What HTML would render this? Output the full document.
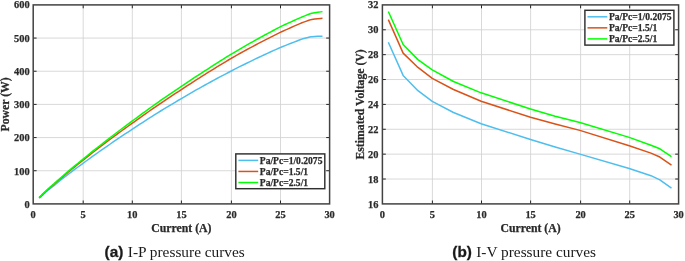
<!DOCTYPE html>
<html lang="en"><head><meta charset="utf-8"><title>I-P and I-V pressure curves</title>
<style>html,body{margin:0;padding:0;background:#fff}body{width:685px;height:261px;overflow:hidden}svg{display:block;will-change:transform}</style>
</head><body>
<svg width="685" height="261" viewBox="0 0 685 261">
<rect width="685" height="261" fill="#fff"/>
<g font-family="'Liberation Serif', serif" font-weight="bold" fill="#2a2a2a" stroke="#2a2a2a" stroke-width="0.25">
<line x1="83.20" y1="4.9" x2="83.20" y2="203.9" stroke="#d2d2d2" stroke-width="0.85"/>
<line x1="132.30" y1="4.9" x2="132.30" y2="203.9" stroke="#d2d2d2" stroke-width="0.85"/>
<line x1="181.40" y1="4.9" x2="181.40" y2="203.9" stroke="#d2d2d2" stroke-width="0.85"/>
<line x1="231.40" y1="4.9" x2="231.40" y2="203.9" stroke="#d2d2d2" stroke-width="0.85"/>
<line x1="280.50" y1="4.9" x2="280.50" y2="203.9" stroke="#d2d2d2" stroke-width="0.85"/>
<line x1="33.2" y1="170.73" x2="329.6" y2="170.73" stroke="#d2d2d2" stroke-width="0.85"/>
<line x1="33.2" y1="137.57" x2="329.6" y2="137.57" stroke="#d2d2d2" stroke-width="0.85"/>
<line x1="33.2" y1="104.40" x2="329.6" y2="104.40" stroke="#d2d2d2" stroke-width="0.85"/>
<line x1="33.2" y1="71.23" x2="329.6" y2="71.23" stroke="#d2d2d2" stroke-width="0.85"/>
<line x1="33.2" y1="38.07" x2="329.6" y2="38.07" stroke="#d2d2d2" stroke-width="0.85"/>
<polyline points="39.13,198.13 42.09,195.40 45.06,192.78 48.02,190.27 50.98,187.86 53.95,185.56 53.95,185.56 56.91,183.14 59.88,180.76 62.84,178.44 65.80,176.16 68.77,173.93 68.77,173.93 71.73,171.66 74.70,169.43 77.66,167.23 80.62,165.06 83.09,163.28 83.59,162.92 86.55,160.73 89.52,158.57 92.48,156.43 95.44,154.32 98.41,152.24 101.37,150.18 104.34,148.14 104.34,148.14 107.30,146.06 110.26,143.99 113.23,141.95 116.19,139.92 119.16,137.91 122.12,135.93 125.08,133.96 128.05,132.01 131.01,130.08 132.00,129.44 133.98,128.12 136.94,126.16 139.90,124.21 142.87,122.28 145.83,120.36 148.80,118.46 151.76,116.57 154.72,114.70 157.69,112.84 160.65,111.00 163.62,109.17 166.58,107.36 169.54,105.56 172.51,103.78 175.47,102.02 178.44,100.27 181.40,98.53 181.40,98.53 184.36,96.79 187.33,95.06 190.29,93.35 193.26,91.65 196.22,89.96 199.18,88.29 202.15,86.64 205.11,84.99 206.10,84.45 208.08,83.36 211.04,81.73 214.00,80.12 216.97,78.52 219.93,76.93 222.90,75.36 225.86,73.80 228.82,72.26 230.80,71.23 231.79,70.72 234.75,69.20 237.72,67.70 240.68,66.20 243.64,64.72 246.61,63.26 249.57,61.80 252.54,60.37 255.50,58.94 258.46,57.53 261.43,56.13 264.39,54.75 267.36,53.38 270.32,52.02 273.28,50.68 276.25,49.35 279.21,48.04 280.20,47.60 282.18,46.79 285.14,45.59 288.10,44.41 291.07,43.24 294.03,42.08 297.00,40.94 299.96,39.82 301.94,39.08 302.92,38.82 305.89,38.04 308.85,37.29 310.83,36.80 311.82,36.72 314.78,36.53 317.74,36.37 320.71,36.25 322.49,36.19" fill="none" stroke="#4DBEEE" stroke-width="1.5" stroke-linejoin="round" stroke-linecap="butt"/>
<polyline points="39.13,197.77 42.09,194.86 45.06,192.06 48.02,189.37 50.98,186.79 53.95,184.31 53.95,184.31 56.91,181.70 59.88,179.13 62.84,176.61 65.80,174.13 68.77,171.70 68.77,171.70 71.73,169.25 74.70,166.84 77.66,164.46 80.62,162.12 83.09,160.20 83.59,159.80 86.55,157.43 89.52,155.09 92.48,152.76 95.44,150.47 98.41,148.19 101.37,145.95 104.34,143.72 104.34,143.72 107.30,141.47 110.26,139.23 113.23,137.02 116.19,134.83 119.16,132.65 122.12,130.50 125.08,128.37 128.05,126.26 131.01,124.16 132.00,123.47 133.98,122.04 136.94,119.90 139.90,117.77 142.87,115.66 145.83,113.57 148.80,111.49 151.76,109.42 154.72,107.37 157.69,105.34 160.65,103.32 163.62,101.32 166.58,99.33 169.54,97.36 172.51,95.40 175.47,93.46 178.44,91.54 181.40,89.62 181.40,89.62 184.36,87.67 187.33,85.72 190.29,83.79 193.26,81.87 196.22,79.97 199.18,78.08 202.15,76.20 205.11,74.33 206.10,73.71 208.08,72.47 211.04,70.61 214.00,68.77 216.97,66.94 219.93,65.12 222.90,63.32 225.86,61.52 228.82,59.74 230.80,58.56 231.79,58.00 234.75,56.32 237.72,54.66 240.68,53.01 243.64,51.38 246.61,49.76 249.57,48.15 252.54,46.56 255.50,44.99 258.46,43.43 261.43,41.88 264.39,40.35 267.36,38.83 270.32,37.33 273.28,35.84 276.25,34.37 279.21,32.91 280.20,32.43 282.18,31.51 285.14,30.15 288.10,28.81 291.07,27.48 294.03,26.17 297.00,24.87 299.96,23.60 301.94,22.75 302.92,22.40 305.89,21.35 308.85,20.32 310.83,19.65 311.82,19.51 314.78,19.11 317.74,18.74 320.71,18.41 322.49,18.22" fill="none" stroke="#D95319" stroke-width="1.5" stroke-linejoin="round" stroke-linecap="butt"/>
<polyline points="39.13,197.64 42.09,194.66 45.06,191.80 48.02,189.03 50.98,186.38 53.95,183.83 53.95,183.83 56.91,181.15 59.88,178.53 62.84,175.95 65.80,173.42 68.77,170.95 68.77,170.95 71.73,168.42 74.70,165.93 77.66,163.48 80.62,161.05 83.09,159.06 83.59,158.66 86.55,156.23 89.52,153.82 92.48,151.45 95.44,149.09 98.41,146.77 101.37,144.47 104.34,142.19 104.34,142.19 107.30,139.87 110.26,137.56 113.23,135.27 116.19,133.00 119.16,130.75 122.12,128.51 125.08,126.30 128.05,124.11 131.01,121.94 132.00,121.22 133.98,119.74 136.94,117.53 139.90,115.35 142.87,113.17 145.83,111.02 148.80,108.87 151.76,106.75 154.72,104.64 157.69,102.54 160.65,100.46 163.62,98.40 166.58,96.35 169.54,94.32 172.51,92.30 175.47,90.30 178.44,88.31 181.40,86.34 181.40,86.34 184.36,84.34 187.33,82.36 190.29,80.39 193.26,78.43 196.22,76.49 199.18,74.56 202.15,72.65 205.11,70.74 206.10,70.11 208.08,68.82 211.04,66.90 214.00,64.99 216.97,63.09 219.93,61.20 222.90,59.33 225.86,57.46 228.82,55.61 230.80,54.38 231.79,53.80 234.75,52.04 237.72,50.30 240.68,48.57 243.64,46.85 246.61,45.15 249.57,43.47 252.54,41.79 255.50,40.14 258.46,38.49 261.43,36.86 264.39,35.25 267.36,33.65 270.32,32.06 273.28,30.49 276.25,28.93 279.21,27.38 280.20,26.87 282.18,25.94 285.14,24.54 288.10,23.17 291.07,21.81 294.03,20.47 297.00,19.15 299.96,17.84 301.94,16.98 302.92,16.58 305.89,15.41 308.85,14.25 310.83,13.50 311.82,13.32 314.78,12.80 317.74,12.32 320.71,11.87 322.49,11.62" fill="none" stroke="#00FF00" stroke-width="1.5" stroke-linejoin="round" stroke-linecap="butt"/>
<line x1="83.20" y1="203.9" x2="83.20" y2="200.5" stroke="#262626" stroke-width="1"/>
<line x1="83.20" y1="4.9" x2="83.20" y2="8.3" stroke="#262626" stroke-width="1"/>
<line x1="132.30" y1="203.9" x2="132.30" y2="200.5" stroke="#262626" stroke-width="1"/>
<line x1="132.30" y1="4.9" x2="132.30" y2="8.3" stroke="#262626" stroke-width="1"/>
<line x1="181.40" y1="203.9" x2="181.40" y2="200.5" stroke="#262626" stroke-width="1"/>
<line x1="181.40" y1="4.9" x2="181.40" y2="8.3" stroke="#262626" stroke-width="1"/>
<line x1="231.40" y1="203.9" x2="231.40" y2="200.5" stroke="#262626" stroke-width="1"/>
<line x1="231.40" y1="4.9" x2="231.40" y2="8.3" stroke="#262626" stroke-width="1"/>
<line x1="280.50" y1="203.9" x2="280.50" y2="200.5" stroke="#262626" stroke-width="1"/>
<line x1="280.50" y1="4.9" x2="280.50" y2="8.3" stroke="#262626" stroke-width="1"/>
<line x1="33.2" y1="170.73" x2="36.6" y2="170.73" stroke="#262626" stroke-width="1"/>
<line x1="329.6" y1="170.73" x2="326.20000000000005" y2="170.73" stroke="#262626" stroke-width="1"/>
<line x1="33.2" y1="137.57" x2="36.6" y2="137.57" stroke="#262626" stroke-width="1"/>
<line x1="329.6" y1="137.57" x2="326.20000000000005" y2="137.57" stroke="#262626" stroke-width="1"/>
<line x1="33.2" y1="104.40" x2="36.6" y2="104.40" stroke="#262626" stroke-width="1"/>
<line x1="329.6" y1="104.40" x2="326.20000000000005" y2="104.40" stroke="#262626" stroke-width="1"/>
<line x1="33.2" y1="71.23" x2="36.6" y2="71.23" stroke="#262626" stroke-width="1"/>
<line x1="329.6" y1="71.23" x2="326.20000000000005" y2="71.23" stroke="#262626" stroke-width="1"/>
<line x1="33.2" y1="38.07" x2="36.6" y2="38.07" stroke="#262626" stroke-width="1"/>
<line x1="329.6" y1="38.07" x2="326.20000000000005" y2="38.07" stroke="#262626" stroke-width="1"/>
<rect x="33.2" y="4.9" width="296.40" height="199.00" fill="none" stroke="#424242" stroke-width="1.5"/>
<text x="33.20" y="217.6" font-size="10.4" text-anchor="middle">0</text>
<text x="83.20" y="217.6" font-size="10.4" text-anchor="middle">5</text>
<text x="132.30" y="217.6" font-size="10.4" text-anchor="middle">10</text>
<text x="181.40" y="217.6" font-size="10.4" text-anchor="middle">15</text>
<text x="231.40" y="217.6" font-size="10.4" text-anchor="middle">20</text>
<text x="280.50" y="217.6" font-size="10.4" text-anchor="middle">25</text>
<text x="329.60" y="217.6" font-size="10.4" text-anchor="middle">30</text>
<text x="29.60" y="208.10" font-size="10.4" text-anchor="end">0</text>
<text x="29.60" y="174.78" font-size="10.4" text-anchor="end">100</text>
<text x="29.60" y="141.47" font-size="10.4" text-anchor="end">200</text>
<text x="29.60" y="108.15" font-size="10.4" text-anchor="end">300</text>
<text x="29.60" y="74.83" font-size="10.4" text-anchor="end">400</text>
<text x="29.60" y="41.52" font-size="10.4" text-anchor="end">500</text>
<text x="29.60" y="8.20" font-size="10.4" text-anchor="end">600</text>
<text x="181.40" y="231.8" font-size="11.75" text-anchor="middle">Current (A)</text>
<text transform="translate(9.4,104.40) rotate(-90)" font-size="11.75" text-anchor="middle">Power (W)</text>
<rect x="235.8" y="153.9" width="89.0" height="34.8" fill="#fff" stroke="#303030" stroke-width="1.45"/>
<line x1="238.40" y1="160.40" x2="258.20" y2="160.40" stroke="#4DBEEE" stroke-width="1.5"/>
<text x="259.80" y="163.60" font-size="9.58">Pa/Pc=1/0.2075</text>
<line x1="238.40" y1="171.45" x2="258.20" y2="171.45" stroke="#D95319" stroke-width="1.5"/>
<text x="259.80" y="174.65" font-size="9.58">Pa/Pc=1.5/1</text>
<line x1="238.40" y1="182.50" x2="258.20" y2="182.50" stroke="#00FF00" stroke-width="1.5"/>
<text x="259.80" y="185.70" font-size="9.58">Pa/Pc=2.5/1</text>
</g>
<text x="104.6" y="256.6" font-family="'Liberation Sans', sans-serif" font-weight="bold" font-size="15.3" fill="#1a1a1a" stroke="#1a1a1a" stroke-width="0.3">(a)</text>
<text x="127.8" y="256.6" font-family="'Liberation Serif', serif" font-size="15.35" fill="#1a1a1a">I-P pressure curves</text>
<g font-family="'Liberation Serif', serif" font-weight="bold" fill="#2a2a2a" stroke="#2a2a2a" stroke-width="0.25">
<line x1="432.40" y1="4.9" x2="432.40" y2="203.9" stroke="#d2d2d2" stroke-width="0.85"/>
<line x1="481.50" y1="4.9" x2="481.50" y2="203.9" stroke="#d2d2d2" stroke-width="0.85"/>
<line x1="530.60" y1="4.9" x2="530.60" y2="203.9" stroke="#d2d2d2" stroke-width="0.85"/>
<line x1="580.60" y1="4.9" x2="580.60" y2="203.9" stroke="#d2d2d2" stroke-width="0.85"/>
<line x1="629.70" y1="4.9" x2="629.70" y2="203.9" stroke="#d2d2d2" stroke-width="0.85"/>
<line x1="382.4" y1="179.03" x2="678.6" y2="179.03" stroke="#d2d2d2" stroke-width="0.85"/>
<line x1="382.4" y1="154.15" x2="678.6" y2="154.15" stroke="#d2d2d2" stroke-width="0.85"/>
<line x1="382.4" y1="129.28" x2="678.6" y2="129.28" stroke="#d2d2d2" stroke-width="0.85"/>
<line x1="382.4" y1="104.40" x2="678.6" y2="104.40" stroke="#d2d2d2" stroke-width="0.85"/>
<line x1="382.4" y1="79.53" x2="678.6" y2="79.53" stroke="#d2d2d2" stroke-width="0.85"/>
<line x1="382.4" y1="54.65" x2="678.6" y2="54.65" stroke="#d2d2d2" stroke-width="0.85"/>
<line x1="382.4" y1="29.78" x2="678.6" y2="29.78" stroke="#d2d2d2" stroke-width="0.85"/>
<polyline points="388.32,42.21 403.13,75.42 417.94,90.72 432.26,101.29 453.49,112.48 481.13,123.68 530.50,139.47 555.18,146.94 579.87,154.15 629.23,168.45 650.95,175.67 659.84,179.90 671.49,188.10" fill="none" stroke="#4DBEEE" stroke-width="1.5" stroke-linejoin="round" stroke-linecap="butt"/>
<polyline points="388.32,19.58 403.13,53.16 417.94,67.46 432.26,78.41 453.49,89.48 481.13,101.29 530.50,117.21 555.18,123.93 579.87,130.39 629.23,145.69 650.95,153.16 659.84,157.01 671.49,165.09" fill="none" stroke="#D95319" stroke-width="1.5" stroke-linejoin="round" stroke-linecap="butt"/>
<polyline points="388.32,11.49 403.13,44.45 417.94,59.62 432.26,69.95 453.49,81.52 481.13,92.83 530.50,109.00 555.18,116.22 579.87,122.56 629.23,137.36 650.95,145.20 659.84,148.80 671.49,156.64" fill="none" stroke="#00FF00" stroke-width="1.5" stroke-linejoin="round" stroke-linecap="butt"/>
<line x1="432.40" y1="203.9" x2="432.40" y2="200.5" stroke="#262626" stroke-width="1"/>
<line x1="432.40" y1="4.9" x2="432.40" y2="8.3" stroke="#262626" stroke-width="1"/>
<line x1="481.50" y1="203.9" x2="481.50" y2="200.5" stroke="#262626" stroke-width="1"/>
<line x1="481.50" y1="4.9" x2="481.50" y2="8.3" stroke="#262626" stroke-width="1"/>
<line x1="530.60" y1="203.9" x2="530.60" y2="200.5" stroke="#262626" stroke-width="1"/>
<line x1="530.60" y1="4.9" x2="530.60" y2="8.3" stroke="#262626" stroke-width="1"/>
<line x1="580.60" y1="203.9" x2="580.60" y2="200.5" stroke="#262626" stroke-width="1"/>
<line x1="580.60" y1="4.9" x2="580.60" y2="8.3" stroke="#262626" stroke-width="1"/>
<line x1="629.70" y1="203.9" x2="629.70" y2="200.5" stroke="#262626" stroke-width="1"/>
<line x1="629.70" y1="4.9" x2="629.70" y2="8.3" stroke="#262626" stroke-width="1"/>
<line x1="382.4" y1="179.03" x2="385.79999999999995" y2="179.03" stroke="#262626" stroke-width="1"/>
<line x1="678.6" y1="179.03" x2="675.2" y2="179.03" stroke="#262626" stroke-width="1"/>
<line x1="382.4" y1="154.15" x2="385.79999999999995" y2="154.15" stroke="#262626" stroke-width="1"/>
<line x1="678.6" y1="154.15" x2="675.2" y2="154.15" stroke="#262626" stroke-width="1"/>
<line x1="382.4" y1="129.28" x2="385.79999999999995" y2="129.28" stroke="#262626" stroke-width="1"/>
<line x1="678.6" y1="129.28" x2="675.2" y2="129.28" stroke="#262626" stroke-width="1"/>
<line x1="382.4" y1="104.40" x2="385.79999999999995" y2="104.40" stroke="#262626" stroke-width="1"/>
<line x1="678.6" y1="104.40" x2="675.2" y2="104.40" stroke="#262626" stroke-width="1"/>
<line x1="382.4" y1="79.53" x2="385.79999999999995" y2="79.53" stroke="#262626" stroke-width="1"/>
<line x1="678.6" y1="79.53" x2="675.2" y2="79.53" stroke="#262626" stroke-width="1"/>
<line x1="382.4" y1="54.65" x2="385.79999999999995" y2="54.65" stroke="#262626" stroke-width="1"/>
<line x1="678.6" y1="54.65" x2="675.2" y2="54.65" stroke="#262626" stroke-width="1"/>
<line x1="382.4" y1="29.78" x2="385.79999999999995" y2="29.78" stroke="#262626" stroke-width="1"/>
<line x1="678.6" y1="29.78" x2="675.2" y2="29.78" stroke="#262626" stroke-width="1"/>
<rect x="382.4" y="4.9" width="296.20" height="199.00" fill="none" stroke="#424242" stroke-width="1.5"/>
<text x="382.40" y="217.6" font-size="10.4" text-anchor="middle">0</text>
<text x="432.40" y="217.6" font-size="10.4" text-anchor="middle">5</text>
<text x="481.50" y="217.6" font-size="10.4" text-anchor="middle">10</text>
<text x="530.60" y="217.6" font-size="10.4" text-anchor="middle">15</text>
<text x="580.60" y="217.6" font-size="10.4" text-anchor="middle">20</text>
<text x="629.70" y="217.6" font-size="10.4" text-anchor="middle">25</text>
<text x="678.60" y="217.6" font-size="10.4" text-anchor="middle">30</text>
<text x="378.50" y="208.10" font-size="10.4" text-anchor="end">16</text>
<text x="378.50" y="183.11" font-size="10.4" text-anchor="end">18</text>
<text x="378.50" y="158.13" font-size="10.4" text-anchor="end">20</text>
<text x="378.50" y="133.14" font-size="10.4" text-anchor="end">22</text>
<text x="378.50" y="108.15" font-size="10.4" text-anchor="end">24</text>
<text x="378.50" y="83.16" font-size="10.4" text-anchor="end">26</text>
<text x="378.50" y="58.18" font-size="10.4" text-anchor="end">28</text>
<text x="378.50" y="33.19" font-size="10.4" text-anchor="end">30</text>
<text x="378.50" y="8.20" font-size="10.4" text-anchor="end">32</text>
<text x="530.50" y="231.8" font-size="11.75" text-anchor="middle">Current (A)</text>
<text transform="translate(363.7,104.40) rotate(-90)" font-size="11.75" text-anchor="middle">Estimated Voltage (V)</text>
<rect x="584.9" y="10.3" width="89.0" height="34.8" fill="#fff" stroke="#303030" stroke-width="1.45"/>
<line x1="587.50" y1="16.80" x2="607.30" y2="16.80" stroke="#4DBEEE" stroke-width="1.5"/>
<text x="608.90" y="20.00" font-size="9.58">Pa/Pc=1/0.2075</text>
<line x1="587.50" y1="27.85" x2="607.30" y2="27.85" stroke="#D95319" stroke-width="1.5"/>
<text x="608.90" y="31.05" font-size="9.58">Pa/Pc=1.5/1</text>
<line x1="587.50" y1="38.90" x2="607.30" y2="38.90" stroke="#00FF00" stroke-width="1.5"/>
<text x="608.90" y="42.10" font-size="9.58">Pa/Pc=2.5/1</text>
</g>
<text x="452.3" y="256.6" font-family="'Liberation Sans', sans-serif" font-weight="bold" font-size="15.3" fill="#1a1a1a" stroke="#1a1a1a" stroke-width="0.3">(b)</text>
<text x="476.2" y="256.6" font-family="'Liberation Serif', serif" font-size="15.35" fill="#1a1a1a">I-V pressure curves</text>
</svg>
</body></html>
